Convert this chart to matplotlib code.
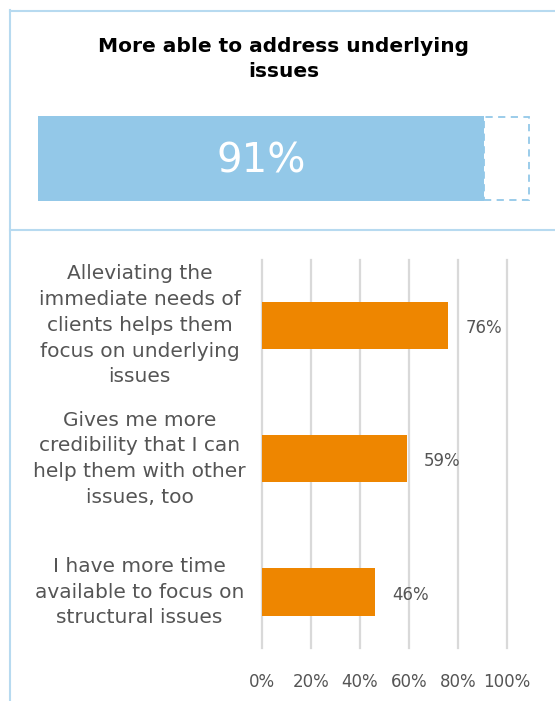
import matplotlib
matplotlib.use('Agg')
from matplotlib import pyplot as plt
from matplotlib.lines import Line2D

# headline figure
headline_title = 'More able to address underlying\nissues'
headline_value = 91

# breakdown of reasons
reasons = [
    'Alleviating the\nimmediate needs of\nclients helps them\nfocus on underlying\nissues',
    'Gives me more\ncredibility that I can\nhelp them with other\nissues, too',
    'I have more time\navailable to focus on\nstructural issues',
]
reason_values = [76, 59, 46]
tick_values = [0, 20, 40, 60, 80, 100]

W, H = 555, 701
blue = '#93C8E8'
frame_blue = '#B7DAF0'
orange = '#EE8600'
text_gray = '#555555'


def fx(x):
    return x / W


def fy(y):
    return 1 - y / H


def axes_rect(x0, y0, x1, y1):
    return [fx(x0), fy(y1), fx(x1) - fx(x0), fy(y0) - fy(y1)]


fig = plt.figure(figsize=(W / 100, H / 100), dpi=100)
fig.patch.set_facecolor('white')

# panel frame lines
fig.add_artist(Line2D([fx(9.5), fx(9.5)], [fy(10), fy(H)], color=frame_blue, lw=1.5))
fig.add_artist(Line2D([fx(9.5), fx(W)], [fy(10.5), fy(10.5)], color=frame_blue, lw=1.5))
fig.add_artist(Line2D([fx(9.5), fx(W)], [fy(230), fy(230)], color=frame_blue, lw=1.5))

fig.text(fx(284), fy(59), headline_title, ha='center', va='center',
         fontsize=14.5, fontweight='bold', color='black', linespacing=1.38)

# headline bar with dashed remainder up to 100%
ax_top = fig.add_axes(axes_rect(38, 116, 530, 201))
ax_top.barh([0], [headline_value], height=1, color=blue, edgecolor='none')
ax_top.barh([0], [100 - headline_value], left=headline_value, height=0.985,
            color='none', edgecolor=blue, linestyle=(0, (4, 3)), lw=1.3)
ax_top.text(headline_value / 2, -0.03, f'{headline_value}%', ha='center', va='center',
            color='white', fontsize=29)
ax_top.set_xlim(0, 100.3)
ax_top.set_ylim(-0.5, 0.5)
ax_top.axis('off')

# reasons bar chart
ax = fig.add_axes(axes_rect(262, 260, 507, 648))
ypos = list(range(len(reasons)))
ax.barh(ypos, reason_values, height=0.355, color=orange, edgecolor='none', zorder=3)
for y, v in zip(ypos, reason_values):
    ax.text(v + 7, y + 0.02, f'{v}%', va='center', ha='left', fontsize=12, color=text_gray)
for y, label in zip(ypos, reasons):
    ax.text(-50, y, label, ha='center', va='center', fontsize=14.5,
            color=text_gray, linespacing=1.45)

ax.set_xlim(0, 100)
ax.set_ylim(2.42, -0.49)
ax.set_xticks(tick_values)
ax.set_xticklabels([f'{t}%' for t in tick_values], fontsize=12, color=text_gray)
ax.set_yticks([])
ax.tick_params(axis='x', length=0, pad=18)
ax.grid(axis='x', color='#D9D9D9', lw=1.6, zorder=0)
for gl in ax.get_xgridlines():
    gl.set_clip_on(False)
for s in ax.spines.values():
    s.set_visible(False)

plt.savefig('out.png', dpi=100)
